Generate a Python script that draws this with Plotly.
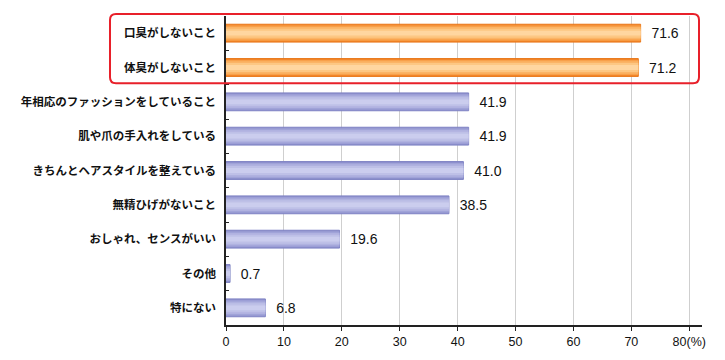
import plotly.graph_objects as go

categories = ["口臭がしないこと", "体臭がしないこと", "年相応のファッションをしていること",
              "肌や爪の手入れをしている", "きちんとヘアスタイルを整えている", "無精ひげがないこと",
              "おしゃれ、センスがいい", "その他", "特にない"]
values = [71.6, 71.2, 41.9, 41.9, 41.0, 38.5, 19.6, 0.7, 6.8]
x_ticks = [0, 10, 20, 30, 40, 50, 60, 70, 80]
x_tick_labels = ["0", "10", "20", "30", "40", "50", "60", "70", "80(%)"]
highlight = [True, True, False, False, False, False, False, False, False]

# gradient layers (outer -> inner): (bar width, orange colour, blue colour)
layers = [
    (0.52, "#F2862A", "#8E91CD"),
    (0.44, "#F8A04A", "#A0A3D8"),
    (0.36, "#FBB466", "#B0B2E0"),
    (0.26, "#FDC783", "#BEC0E7"),
    (0.14, "#FFD6A0", "#CBCDEE"),
]

fig = go.Figure()
for i, (w, oc, bc) in enumerate(layers):
    cols = [oc if h else bc for h in highlight]
    kw = {}
    if i == 0:
        kw = dict(text=["\u00a0\u00a0" + f"{v:.1f}" for v in values], textposition="outside",
                  textfont=dict(family="Liberation Sans, Arial", size=14, color="#111"),
                  cliponaxis=False)
        line = dict(color=["#E9781A" if h else "#7F83C4" for h in highlight], width=1)
    else:
        line = dict(width=0)
    fig.add_trace(go.Bar(y=categories, x=values, orientation="h", width=w,
                         marker=dict(color=cols, line=line), hoverinfo="skip", **kw))

# rounded red highlight box (paper coords)
L, R, T, B = -0.2437, 0.9937, 1.0065, 0.782
rx, ry = 6 / 476, 6 / 309
path = (f"M {L+rx},{T} L {R-rx},{T} Q {R},{T} {R},{T-ry} L {R},{B+ry} Q {R},{B} {R-rx},{B} "
        f"L {L+rx},{B} Q {L},{B} {L},{B+ry} L {L},{T-ry} Q {L},{T} {L+rx},{T} Z")
fig.add_shape(type="path", path=path, xref="paper", yref="paper",
              line=dict(color="#E8202A", width=2))

fig.update_layout(
    width=717, height=352, barmode="overlay", showlegend=False,
    plot_bgcolor="white", paper_bgcolor="white",
    margin=dict(l=218, r=23, t=8, b=35, autoexpand=False),
    bargap=0.48,
)
fig.update_xaxes(
    range=[0, 82.2], tickvals=x_ticks, ticktext=x_tick_labels,
    showgrid=True, gridcolor="#CFCFCF", gridwidth=1,
    showline=True, linecolor="#222", linewidth=1.5,
    ticks="outside", ticklen=4, tickcolor="#222",
    tickfont=dict(family="Liberation Sans, Arial", size=12.5, color="#111"),
    zeroline=False, fixedrange=True, automargin=False)
fig.update_yaxes(
    categoryorder="array", categoryarray=categories, autorange="reversed",
    showline=True, linecolor="#222", linewidth=1.5,
    ticks="inside", ticklen=3, tickcolor="#222", tickson="boundaries",
    ticklabelstandoff=6, automargin=False,
    tickfont=dict(family="Noto Sans CJK JP", size=11.5, color="#111", weight="bold"),
    showgrid=False, fixedrange=True)

fig.write_html("out.html")
